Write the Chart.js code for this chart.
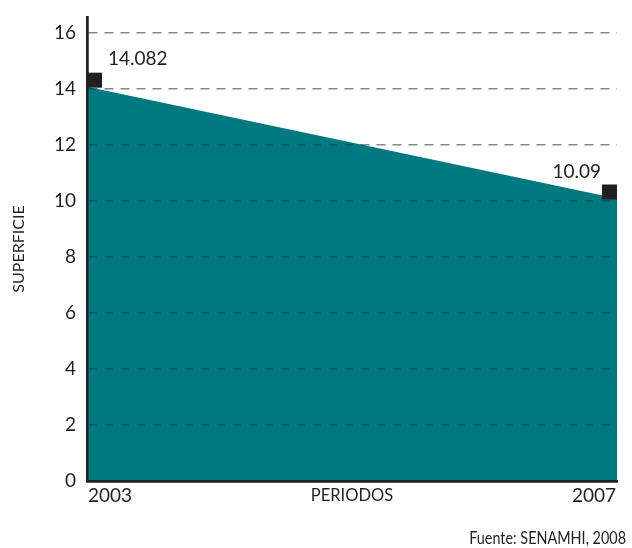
<!DOCTYPE html>
<html>
<head>
<meta charset="utf-8">
<script src="https://cdn.jsdelivr.net/npm/chart.js@4/dist/chart.umd.min.js"></script>
<style>
  html, body { margin: 0; padding: 0; background: #fff; }
  #wrap { width: 632px; height: 548px; }
</style>
</head>
<body>
<div id="wrap"><canvas id="chart" width="632" height="548"></canvas></div>
<script>
const periods = ['2003', '2007'];
const superficie = [14.082, 10.09];
const valueLabels = ['14.082', '10.09'];
const yTicks = [0, 2, 4, 6, 8, 10, 12, 14, 16];

const ink = '#231f20';
const teal = '#007a80';
const font = 'Lato, "Open Sans", sans-serif';

// square marker that sits above the point, on the inner side
function marker(side) {
  const c = document.createElement('canvas');
  c.width = 30;
  c.height = 30;
  const g = c.getContext('2d');
  g.fillStyle = ink;
  g.fillRect(side === 'right' ? 15 : 0, 1, 15, 15);
  return c;
}
const markers = [marker('right'), marker('left')];

const overlay = {
  id: 'overlay',
  afterDatasetsDraw(chart) {
    const ctx = chart.ctx;
    const area = chart.chartArea;
    const xs = chart.scales.x;
    // grid and axes go on top of the filled area
    chart.scales.y.drawGrid(area);
    chart.scales.y.drawBorder();
    xs.drawBorder();

    const pts = chart.getDatasetMeta(0).data;
    ctx.save();
    ctx.fillStyle = ink;
    ctx.font = '19px ' + font;
    ctx.textBaseline = 'middle';
    pts.forEach((p, i) => {
      if (i === 0) {
        ctx.textAlign = 'left';
        ctx.fillText(valueLabels[i], p.x + 21, p.y - 28);
      } else {
        ctx.textAlign = 'right';
        ctx.fillText(valueLabels[i], p.x - 16, p.y - 27);
      }
    });

    // period labels, first and last kept inside the plot width
    periods.forEach((lab, i) => {
      ctx.textAlign = i === 0 ? 'left' : 'right';
      const x = xs.getPixelForTick(i) + (i === 0 ? 1 : -1);
      ctx.fillText(lab, x, area.bottom + 15);
    });

    ctx.textAlign = 'center';
    ctx.font = '16.5px ' + font;
    ctx.fillText('PERIODOS', (area.left + area.right) / 2, area.bottom + 15);

    // narrow source line
    ctx.textAlign = 'right';
    ctx.font = '18px ' + font;
    ctx.translate(626, 538);
    ctx.scale(0.8, 1);
    ctx.fillText('Fuente: SENAMHI, 2008', 0, 0);
    ctx.restore();
  }
};

new Chart(document.getElementById('chart'), {
  type: 'line',
  data: {
    labels: periods,
    datasets: [{
      data: superficie,
      fill: 'origin',
      backgroundColor: teal,
      borderWidth: 0,
      borderColor: teal,
      tension: 0,
      pointStyle: ctx => markers[ctx.dataIndex],
      pointRadius: 15,
      pointHoverRadius: 15,
      clip: false
    }]
  },
  options: {
    responsive: false,
    animation: false,
    events: [],
    layout: { padding: { top: 17, right: 1, left: 0, bottom: 0 } },
    plugins: {
      legend: { display: false },
      tooltip: { enabled: false }
    },
    scales: {
      x: {
        type: 'category',
        offset: false,
        grid: { display: false, drawTicks: false },
        border: { display: true, color: ink, width: 2.5 },
        ticks: { display: false },
        afterFit: s => { s.height = 67; s.paddingLeft = 0; s.paddingRight = 0; }
      },
      y: {
        min: 0,
        max: 16.57,
        afterBuildTicks: s => { s.ticks = yTicks.map(v => ({ value: v })); },
        grid: {
          color: 'rgba(0,0,0,0.27)',
          lineWidth: 1.5,
          drawTicks: false
        },
        border: { display: true, color: ink, width: 2.5, dash: [9, 7] },
        ticks: {
          padding: 11,
          color: ink,
          font: { family: font, size: 19 }
        },
        title: {
          display: true,
          text: 'SUPERFICIE',
          color: ink,
          font: { family: font, size: 16 },
          padding: { top: 9, bottom: 0 }
        },
        afterFit: s => { s.width = 87; s.paddingTop = 0; s.paddingBottom = 0; }
      }
    }
  },
  plugins: [overlay]
});
</script>
</body>
</html>
